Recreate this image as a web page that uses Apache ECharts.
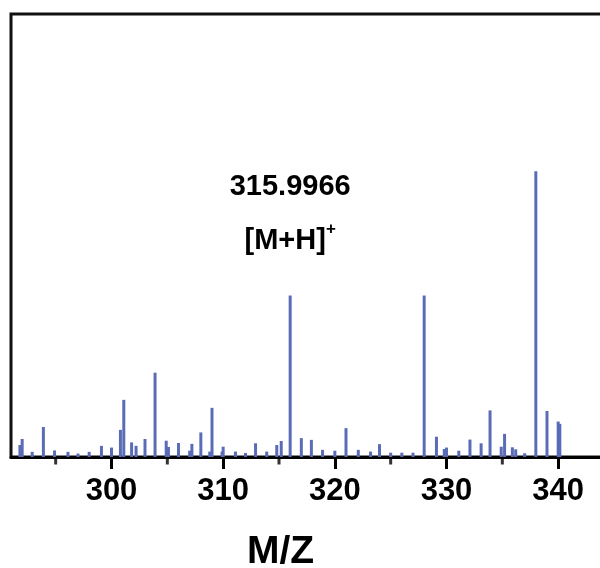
<!DOCTYPE html>
<html>
<head>
<meta charset="utf-8">
<script src="https://cdn.jsdelivr.net/npm/echarts@6/dist/echarts.min.js"></script>
<style>
  html, body { margin: 0; padding: 0; background: #fff; }
  #chart { width: 600px; height: 568px; }
</style>
</head>
<body>
<div id="chart"></div>
<script>
// peak positions (m/z) and relative intensities (338 peak = 100)
const mz = [
  291.8, 292.0, 292.9, 293.9, 294.9, 296.1, 297.0, 298.0, 299.1, 300.0,
  300.8, 301.1, 301.8, 302.2, 303.0, 303.9, 304.9, 305.1, 306.0, 307.0,
  307.2, 308.0, 308.8, 309.0, 309.9, 310.0, 311.1, 312.0, 312.9, 313.9,
  314.8, 315.2, 316.0, 317.0, 317.9, 318.9, 320.0, 321.0, 322.1, 323.2,
  324.0, 325.0, 326.0, 327.0, 328.0, 329.1, 329.8, 330.0, 331.1, 332.1,
  333.1, 333.9, 334.9, 335.2, 335.9, 336.2, 337.0, 338.0, 339.0, 340.0,
  340.15
];
const intensity = [
  4.2, 6.3, 1.8, 10.5, 2.3, 1.8, 1.2, 1.8, 3.9, 3.3,
  9.5, 20.0, 5.1, 3.9, 6.3, 29.5, 5.7, 3.5, 4.9, 2.2,
  4.6, 8.6, 1.9, 17.2, 1.9, 3.6, 1.9, 1.4, 4.8, 1.9,
  4.2, 5.6, 56.5, 6.6, 6.0, 2.5, 2.2, 10.1, 2.5, 1.9,
  4.5, 1.5, 1.5, 1.5, 56.5, 7.1, 2.8, 3.3, 2.2, 6.1,
  4.8, 16.3, 3.6, 8.1, 3.4, 2.7, 1.3, 100, 16.1, 12.4,
  11.6
];
const majorTicks = [300, 310, 320, 330, 340];
const minorTicks = [295, 305, 315, 325, 335];
const peakLabel = { mz: 316.0, value: 56.5, mass: '315.9966', ion: '[M+H]', charge: '+' };

const font = 'Arial, "Liberation Sans", sans-serif';
const chart = echarts.init(document.getElementById('chart'));

const options = {
  animation: false,
  backgroundColor: '#fff',
  grid: {
    left: 11,
    top: 14,
    width: 603,
    bottom: 111,
    outerBoundsMode: 'none',
    show: true,
    borderColor: '#111',
    borderWidth: 3
  },
  xAxis: {
    type: 'value',
    min: 291,
    max: 345,
    splitLine: { show: false },
    axisLine: { show: true, lineStyle: { color: '#000', width: 3 } },
    axisTick: {
      show: true,
      customValues: majorTicks,
      length: 12,
      lineStyle: { color: '#000', width: 3 }
    },
    axisLabel: {
      customValues: majorTicks,
      color: '#000',
      fontFamily: font,
      fontWeight: 'bold',
      fontSize: 31,
      margin: 19
    },
    name: 'M/Z',
    nameLocation: 'middle',
    nameGap: 76,
    nameTextStyle: {
      color: '#000',
      fontFamily: font,
      fontWeight: 'bold',
      fontSize: 39,
      padding: [0, 64, 0, 0]
    }
  },
  yAxis: {
    type: 'value',
    min: 0,
    max: 155,
    show: false
  },
  series: [
    {
      type: 'bar',
      barWidth: 3,
      itemStyle: { color: '#5a6cb6' },
      data: mz.map((m, i) => [m, intensity[i]]),
      markPoint: {
        symbol: 'circle',
        symbolSize: 0,
        data: [{ coord: [peakLabel.mz, peakLabel.value] }],
        label: {
          show: true,
          position: 'top',
          offset: [0, -23],
          formatter: `{a|${peakLabel.mass}}\n{b|${peakLabel.ion}}{s|${peakLabel.charge}}`,
          rich: {
            a: { fontFamily: font, fontWeight: 'bold', fontSize: 29, color: '#000', lineHeight: 54 },
            b: { fontFamily: font, fontWeight: 'bold', fontSize: 29, color: '#000', lineHeight: 54 },
            s: { fontFamily: font, fontWeight: 'bold', fontSize: 17, color: '#000', verticalAlign: 'middle', lineHeight: 54, padding: [0, 0, 22, 0] }
          }
        }
      }
    },
    {
      // minor ticks at the half decades, hanging under the axis
      type: 'scatter',
      clip: false,
      silent: true,
      symbol: 'rect',
      symbolSize: [3, 7],
      symbolOffset: [0, 4],
      itemStyle: { color: '#000' },
      data: minorTicks.map(v => [v, 0])
    }
  ]
};
chart.setOption(options);
</script>
</body>
</html>
